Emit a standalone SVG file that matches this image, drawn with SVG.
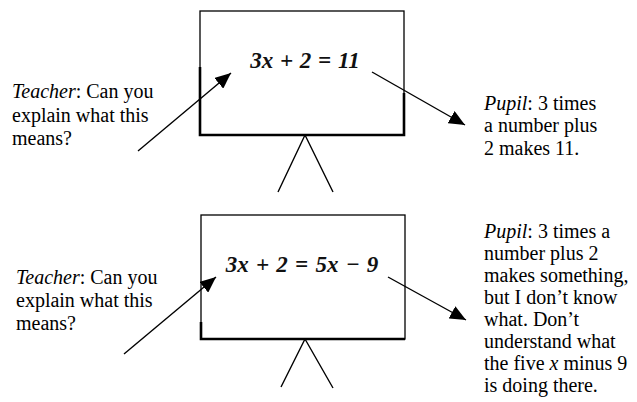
<svg xmlns="http://www.w3.org/2000/svg" width="637" height="402" viewBox="0 0 637 402">
<style>
.t{font-family:'Liberation Serif','Tinos','Noto Serif','DejaVu Serif','Times New Roman','Nimbus Roman','Nimbus Roman No9 L','FreeSerif',Georgia,serif;font-size:20px;fill:#000}
.i{font-style:italic}
.eq{font-family:'Liberation Serif','Tinos','Noto Serif','DejaVu Serif','Times New Roman','Nimbus Roman','Nimbus Roman No9 L','FreeSerif',Georgia,serif;font-size:23px;font-weight:bold;font-style:italic;fill:#111;text-anchor:middle}
.bd{fill:#fff;stroke:#000;stroke-width:1.3}
.thick{stroke:#000;stroke-width:2.6;fill:none}
.leg{stroke:#000;stroke-width:1.4;fill:none}
.con{stroke:#000;stroke-width:1.4;fill:none;marker-end:url(#ah)}
</style>
<defs>
<marker id="ah" markerUnits="userSpaceOnUse" markerWidth="18" markerHeight="14" refX="16" refY="7" orient="auto">
<path d="M0,0 L16,7 L0,14 Z" fill="#000"/>
</marker>
</defs>
<rect width="637" height="402" fill="#fff"/>
<g id="board1">
<rect class="bd" x="200" y="11" width="204" height="124"/>
<path class="thick" d="M200,67 V135 H404 V93"/>
<path class="leg" d="M305,135 L278,192 M305,135 L333,192"/>
<text class="eq" x="305" y="68" word-spacing="1">3x + 2 = 11</text>
</g>
<g id="board2">
<rect class="bd" x="201" y="215" width="204" height="124"/>
<path class="thick" d="M201,322 V339 H405"/>
<path class="leg" d="M305,339 L281,387 M305,339 L333,388"/>
<text class="eq" x="302" y="272" word-spacing="1.5">3x + 2 = 5x − 9</text>
</g>
<g id="teacher1">
<text class="t" x="12" y="98"><tspan class="i">Teacher</tspan>: Can you</text>
<text class="t" x="12" y="121.5">explain what this</text>
<text class="t" x="12" y="145">means?</text>
</g>
<g id="teacher2">
<text class="t" x="16" y="284"><tspan class="i">Teacher</tspan>: Can you</text>
<text class="t" x="16" y="307">explain what this</text>
<text class="t" x="16" y="330">means?</text>
</g>
<g id="pupil1">
<text class="t" x="484" y="109.5"><tspan class="i">Pupil</tspan>: 3 times</text>
<text class="t" x="484" y="132">a number plus</text>
<text class="t" x="484" y="154.5">2 makes 11.</text>
</g>
<g id="pupil2">
<text class="t" x="484" y="238"><tspan class="i">Pupil</tspan>: 3 times a</text>
<text class="t" x="484" y="260">number plus 2</text>
<text class="t" x="484" y="282">makes something,</text>
<text class="t" x="484" y="304">but I don’t know</text>
<text class="t" x="484" y="326">what. Don’t</text>
<text class="t" x="484" y="348">understand what</text>
<text class="t" x="484" y="370">the five <tspan class="i">x</tspan> minus 9</text>
<text class="t" x="484" y="392">is doing there.</text>
</g>
<g id="connectors">
<line class="con" x1="138" y1="151" x2="231" y2="73"/>
<line class="con" x1="372" y1="72" x2="465" y2="125"/>
<line class="con" x1="124" y1="354" x2="216" y2="277"/>
<line class="con" x1="388" y1="277" x2="466" y2="320"/>
</g>
</svg>
